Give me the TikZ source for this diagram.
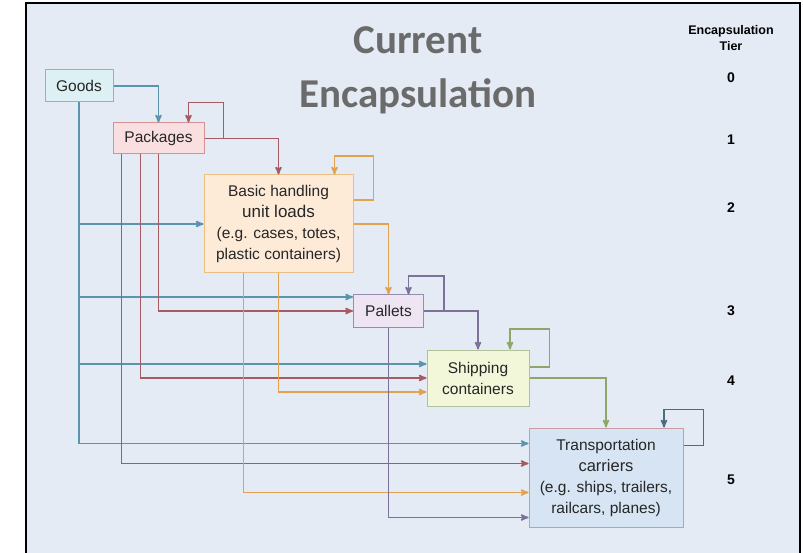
\documentclass[tikz,border=0pt]{standalone}
\usepackage{fontspec}
\setmainfont{Liberation Sans}
\newfontfamily\titlefont{Carlito}
\usepackage{tikz}
\usetikzlibrary{arrows}
\definecolor{bgblue}{HTML}{E4EBF5}
\definecolor{goodsln}{HTML}{5B95AD}
\definecolor{packln}{HTML}{A65A64}
\definecolor{basicln}{HTML}{E3A24F}
\definecolor{palln}{HTML}{7B7199}
\definecolor{shipln}{HTML}{8FA66A}
\definecolor{transln}{HTML}{4F6B80}
\definecolor{titlegray}{HTML}{6B6B6B}
\definecolor{goodsfill}{HTML}{DDF0F3}
\definecolor{packfill}{HTML}{FADFE0}
\definecolor{basicfill}{HTML}{FDEBD8}
\definecolor{palfill}{HTML}{EEE4F2}
\definecolor{shipfill}{HTML}{F3F7DA}
\definecolor{transfill}{HTML}{D6E4F3}
\tikzset{box/.style={draw, rectangle, line width=1pt, inner sep=2pt, align=center, text=black!85,
    font=\fontsize{15.5}{21}\selectfont}}
\tikzset{flow/.style={->, >=stealth', line width=1.6pt}}
\tikzset{tier/.style={font=\bfseries\fontsize{14}{16}\selectfont}}

\begin{document}
\begin{tikzpicture}[x=1pt, y=-1pt]
\useasboundingbox (0,0) rectangle (803,553);
\fill[white] (0,0) rectangle (803,553);
\fill[bgblue] (26,3) rectangle (800,553);
\draw[black, line width=2pt] (26,553) -- (26,3) -- (800,3) -- (800,553);

\node[font=\titlefont\bfseries\fontsize{41}{54}\selectfont, text=titlegray, align=center] (title) at (418,70) {Current\\Encapsulation};

% boxes
\node[box, draw=goodsln!70, fill=goodsfill, minimum width=68pt, minimum height=32pt] (goods) at (79,86) {Goods};
\node[box, draw=packln!80!red!60, fill=packfill, minimum width=91pt, minimum height=31pt] (packages) at (158.5,138.5) {Packages};
\node[box, draw=basicln!70, fill=basicfill, minimum width=149pt, minimum height=98pt] (basic) at (278.5,224)
    {Basic handling\\{\fontsize{17}{21}\selectfont unit loads}\\(e.g. cases, totes,\\plastic containers)};
\node[box, draw=palln!80, fill=palfill, minimum width=70pt, minimum height=32pt] (pallets) at (388.5,311) {Pallets};
\node[box, draw=shipln!70, fill=shipfill, minimum width=102pt, minimum height=56pt] (shipping) at (478,378)
    {Shipping\\containers};
\node[box, draw=packln!60, fill=transfill, minimum width=154pt, minimum height=99pt] (transport) at (606,477.5)
    {Transportation\\{\fontsize{16.5}{21}\selectfont carriers}\\(e.g. ships, trailers,\\railcars, planes)};

% tiers
\node[font=\bfseries\fontsize{12.5}{16}\selectfont, align=center] (tierhead) at (731,38) {Encapsulation\\Tier};
\node[tier] (t0) at (731,78) {0};
\node[tier] (t1) at (731,140) {1};
\node[tier] (t2) at (731,208) {2};
\node[tier] (t3) at (731,311) {3};
\node[tier] (t4) at (731,381) {4};
\node[tier] (t5) at (731,480) {5};

% goods
\begin{scope}[flow, goodsln]
\draw (goods.east) -| (packages.north);
\draw (goods.south) |- (basic.west);
\draw (goods.south) |- ([yshift=14pt]pallets.west);
\draw (goods.south) |- ([yshift=14pt]shipping.west);
\draw (goods.south) |- ([yshift=34pt]transport.west);
\end{scope}

% packages
\begin{scope}[flow, packln]
\draw (packages.east) -| ++(19,-36) -| ([xshift=30pt]packages.north);
\draw (packages.east) -| (basic.north);
\draw (packages.south) |- (pallets.west);
\draw ([xshift=-18pt]packages.south) |- (shipping.west);
\draw ([xshift=-37pt]packages.south) |- ([yshift=14pt]transport.west);
\end{scope}

% basic handling
\begin{scope}[flow, basicln]
\draw ([yshift=24pt]basic.east) -| ++(20,-44) -| ([xshift=56pt]basic.north);
\draw (basic.east) -| (pallets.north);
\draw (basic.south) |- ([yshift=-14pt]shipping.west);
\draw ([xshift=-35pt]basic.south) |- ([yshift=-15pt]transport.west);
\end{scope}

% pallets
\begin{scope}[flow, palln]
\draw (pallets.east) -| ++(20,-35) -| ([xshift=20pt]pallets.north);
\draw (pallets.east) -| (shipping.north);
\draw (pallets.south) |- ([yshift=-40pt]transport.west);
\end{scope}

% shipping
\begin{scope}[flow, shipln]
\draw ([yshift=11pt]shipping.east) -| ++(20,-38) -| ([xshift=32pt]shipping.north);
\draw (shipping.east) -| (transport.north);
\end{scope}

\draw[flow, transln] ([yshift=32pt]transport.east) -| ++(20,-36) -| ([xshift=58pt]transport.north);

\end{tikzpicture}
\end{document}
